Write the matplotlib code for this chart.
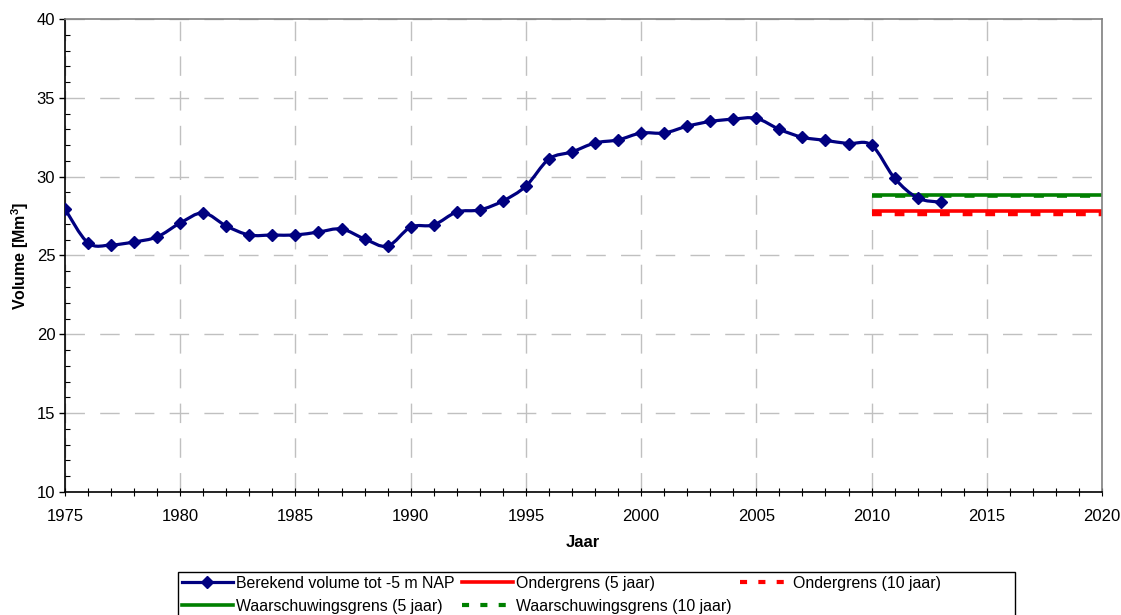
import matplotlib
matplotlib.use("Agg")
import matplotlib.pyplot as plt
import numpy as np
from matplotlib.path import Path
from matplotlib.patches import PathPatch, Rectangle
from matplotlib.lines import Line2D
from matplotlib.ticker import MultipleLocator

plt.rcParams['font.family'] = ['Liberation Sans', 'DejaVu Sans']
plt.rcParams['mathtext.fontset'] = 'custom'
plt.rcParams['mathtext.rm'] = 'Liberation Sans'
plt.rcParams['mathtext.bf'] = 'Liberation Sans:bold'

years = list(range(1975, 2014))
volume = [27.95, 25.8, 25.67, 25.86, 26.18, 27.06, 27.7, 26.87, 26.3, 26.3,
          26.3, 26.49, 26.68, 26.05, 25.6, 26.8, 26.94, 27.76, 27.89, 28.46,
          29.4, 31.12, 31.57, 32.14, 32.33, 32.77, 32.77, 33.2, 33.5, 33.65,
          33.7, 33.0, 32.5, 32.3, 32.1, 32.0, 29.9, 28.65, 28.38]

limit_years = [2010, 2020]
ondergrens_5 = [27.84, 27.84]
ondergrens_10 = [27.64, 27.64]
waarschuwing_5 = [28.86, 28.86]
waarschuwing_10 = [28.78, 28.78]

fig = plt.figure(figsize=(11.21, 6.15), dpi=100)
W, H = 1121, 615
ax = fig.add_axes([65 / W, (H - 492) / H, (1102 - 65) / W, (492 - 19) / H])

ax.set_xlim(1975, 2020)
ax.set_ylim(10, 40)

# grid
ax.xaxis.set_major_locator(MultipleLocator(5))
ax.xaxis.set_minor_locator(MultipleLocator(1))
ax.yaxis.set_major_locator(MultipleLocator(5))
ax.yaxis.set_minor_locator(MultipleLocator(1))
ax.grid(True, which='major', color='#c0c0c0', linewidth=1.0,
        linestyle=(0, (14, 11)))
ax.set_axisbelow(True)

# smoothed line (Catmull-Rom Bezier through the data)
x = np.array(years, dtype=float)
y = np.array(volume, dtype=float)
pts = np.column_stack([x, y])
verts = [pts[0]]
codes = [Path.MOVETO]
n = len(pts)
for i in range(n - 1):
    p0 = pts[i - 1] if i > 0 else pts[i]
    p1 = pts[i]
    p2 = pts[i + 1]
    p3 = pts[i + 2] if i + 2 < n else pts[i + 1]
    c1 = p1 + (p2 - p0) / 6.0
    c2 = p2 - (p3 - p1) / 6.0
    verts += [c1, c2, p2]
    codes += [Path.CURVE4] * 3
ax.add_patch(PathPatch(Path(verts, codes), facecolor='none',
                       edgecolor='#000080', linewidth=2.3, zorder=3))
ax.plot(years, volume, linestyle='none', marker='D', markersize=6.2,
        color='#000080', zorder=4)

ax.plot(limit_years, waarschuwing_5, color='#008000', linewidth=2.6, zorder=2,
        solid_capstyle='butt')
ax.plot(limit_years, waarschuwing_10, color='#008000', linewidth=2.6, zorder=2,
        linestyle=(0, (2.8, 3.6)), dash_capstyle='butt')
ax.plot(limit_years, ondergrens_5, color='#ff0000', linewidth=2.6, zorder=2,
        solid_capstyle='butt')
ax.plot(limit_years, ondergrens_10, color='#ff0000', linewidth=3.2, zorder=2,
        linestyle=(0, (2.2, 2.9)), dash_capstyle='butt')

# spines and ticks
for s in ['top', 'right']:
    ax.spines[s].set_color('#808080')
    ax.spines[s].set_linewidth(1.2)
for s in ['left', 'bottom']:
    ax.spines[s].set_color('#000000')
    ax.spines[s].set_linewidth(1.2)

ax.tick_params(axis='y', which='major', direction='out', length=4, width=1,
               labelsize=12, pad=3)
ax.tick_params(axis='y', which='minor', direction='in', length=3.5, width=0.8)
ax.tick_params(axis='x', which='both', direction='inout', length=6, width=0.8,
               labelsize=12, pad=9)

ax.set_xlabel('Jaar', fontsize=12, fontweight='bold')
ax.set_ylabel(r'Volume [Mm$^\mathbf{3}$]', fontsize=11.5, fontweight='bold')
ax.xaxis.set_label_coords((583 - 65) / 1037, (492 - 535) / 473)
ax.yaxis.set_label_coords((31 - 65) / 1037, 0.5)

# legend
handles = [
    Line2D([], [], color='#000080', linewidth=2.3, marker='D', markersize=6.2),
    Line2D([], [], color='#008000', linewidth=2.6),
    Line2D([], [], color='#ff0000', linewidth=2.6),
    Line2D([], [], color='#008000', linewidth=3.0, linestyle=(0, (1.7, 2.7))),
    Line2D([], [], color='#ff0000', linewidth=3.0, linestyle=(0, (1.7, 2.7))),
]
labels = ['Berekend volume tot -5 m NAP', 'Waarschuwingsgrens (5 jaar)',
          'Ondergrens (5 jaar)', 'Waarschuwingsgrens (10 jaar)',
          'Ondergrens (10 jaar)']
leg = fig.legend(handles, labels, ncol=3, loc='upper left',
                 bbox_to_anchor=(182 / W, (H - 576) / H), frameon=False,
                 fontsize=11.4, handlelength=3.2, handletextpad=0.2,
                 columnspacing=0.5, labelspacing=0.5, borderpad=0,
                 borderaxespad=0)
fig.patches.append(Rectangle((178 / W, -0.05), (1015 - 178) / W,
                             (H - 572) / H + 0.05, transform=fig.transFigure,
                             facecolor='none', edgecolor='#000000',
                             linewidth=1.0))

fig.savefig('out.png', dpi=100)
